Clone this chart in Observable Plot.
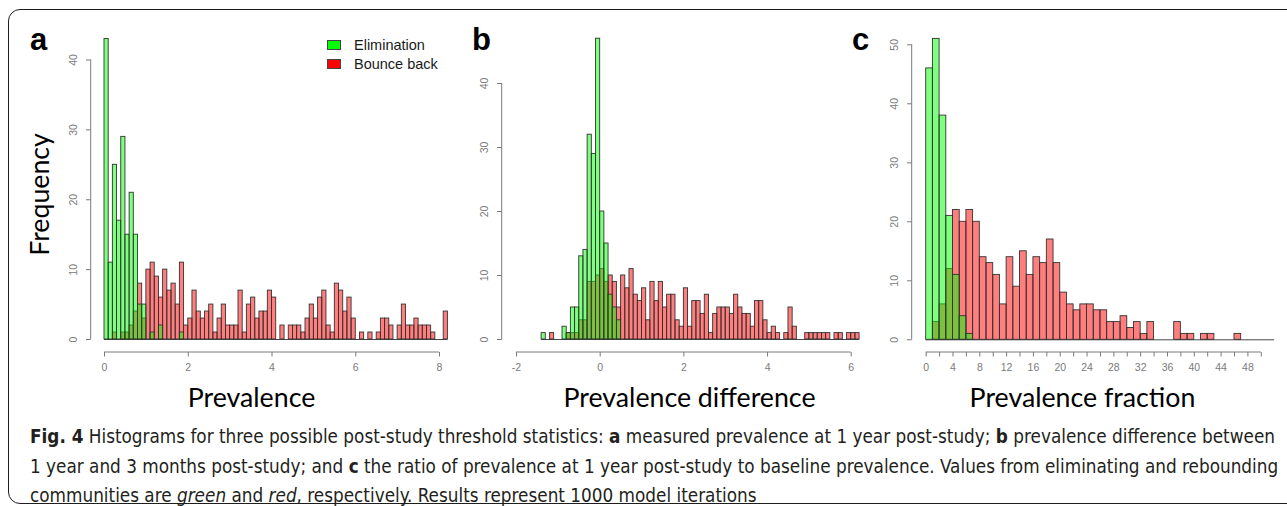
<!DOCTYPE html>
<html>
<head>
<meta charset="utf-8">
<script src="https://cdn.jsdelivr.net/npm/d3@7"></script>
<script src="https://cdn.jsdelivr.net/npm/@observablehq/plot@0.6"></script>
<style>
  html, body { margin: 0; padding: 0; background: #fff; }
  body { width: 1287px; height: 506px; overflow: hidden; position: relative; }
  #border { position: absolute; left: 8px; top: 9px; width: 1400px; height: 495px; border: 1.7px solid #1e1e1e; border-radius: 12px; box-sizing: border-box; }
  .panel { position: absolute; top: 0; }
  .panel svg { overflow: visible; }
  .letter { position: absolute; font-family: "Liberation Sans", Arial, sans-serif; font-weight: bold; font-size: 31px; line-height: 31px; color: #000; }
  #legend { position: absolute; left: 327px; top: 35px; font-family: "Liberation Sans", Arial, sans-serif; font-size: 14.5px; color: #1a1a1a; }
  .lg { display: flex; align-items: center; height: 19.5px; white-space: nowrap; }
  .sw { width: 12px; height: 8px; border: 1px solid #444; margin-right: 13px; }
  #caption { position: absolute; left: 30px; top: 422px; font-family: "Liberation Sans Narrow", "DejaVu Sans Condensed", "Liberation Sans", sans-serif; font-size: 19px; line-height: 29.5px; color: #231f20; white-space: nowrap; }
  #caption .line { width: max-content; transform-origin: 0 50%; }
</style>
</head>
<body>
<div id="border"></div>
<div id="panels"></div>
<div id="legend"></div>
<div id="caption">
  <div class="line"><b>Fig. 4</b> Histograms for three possible post-study threshold statistics: <b>a</b> measured prevalence at 1 year post-study; <b>b</b> prevalence difference between</div>
  <div class="line">1 year and 3 months post-study; and <b>c</b> the ratio of prevalence at 1 year post-study to baseline prevalence. Values from eliminating and rebounding</div>
  <div class="line">communities are <i>green</i> and <i>red</i>, respectively. Results represent 1000 model iterations</div>
</div>
<script>
// ---------------- data ----------------
const legendLabels = ["Elimination", "Bounce back"];
const legendColors = ["#00ff00", "#ff0000"];
const panelLetters = ["a", "b", "c"];
const axisTitles = ["Prevalence", "Prevalence difference", "Prevalence fraction"];
const yAxisTitle = "Frequency";

// Panel a: prevalence at 1 year post-study (bins of 0.1 from 0)
const aBinStart = 0, aBinWidth = 0.1;
const aElimination = [43, 11, 25, 17, 29, 15, 21, 15, 5, 5, 0, 1, 0, 2, 0, 0, 0, 0, 1];
const aBounceBack = [0, 0, 1, 0, 1, 1, 2, 4, 8, 3,
  10, 11, 9, 6, 10, 7, 8, 5, 11, 2,
  3, 7, 4, 3, 4, 5, 1, 3, 5, 2,
  2, 2, 7, 1, 5, 6, 3, 4, 4, 7,
  6, 0, 2, 0, 2, 2, 2, 1, 3, 5,
  3, 6, 7, 2, 1, 8, 7, 4, 6, 3,
  0, 1, 0, 1, 0, 1, 3, 3, 2, 0,
  2, 5, 2, 2, 3, 2, 2, 2, 1, 0,
  0, 4];
const aXTicks = [0, 2, 4, 6, 8];
const aXLabels = [0, 2, 4, 6, 8];
const aYTicks = [0, 10, 20, 30, 40];

// Panel b: prevalence difference (bins of 0.1 from -1.4)
const bBinStart = -1.4, bBinWidth = 0.1;
const bElimination = [1, 0, 0, 0, 0, 2, 1, 5, 5, 13, 14, 32, 29, 47, 20, 15, 7, 5, 3];
const bBounceBack = [0, 0, 1, 0, 0, 0, 1, 1, 1, 3,
  3, 9, 9, 10, 11, 9, 10, 9, 5, 10,
  8, 11, 7, 6, 8, 3, 9, 6, 9, 5,
  7, 7, 3, 2, 8, 2, 6, 6, 4, 7,
  1, 4, 5, 5, 5, 4, 7, 5, 4, 4,
  2, 6, 6, 3, 1, 2, 1, 0, 1, 5,
  2, 0, 0, 1, 1, 1, 1, 1, 1, 0,
  1, 1, 0, 1, 1, 1];
const bXTicks = [-2, 0, 2, 4, 6];
const bXLabels = [-2, 0, 2, 4, 6];
const bYTicks = [0, 10, 20, 30, 40];

// Panel c: prevalence fraction (bins of 1 from 0)
const cBinStart = 0, cBinWidth = 1;
const cElimination = [46, 51, 38, 21, 11, 4, 1];
const cBounceBack = [0, 3, 6, 12, 22, 20, 22, 20, 14, 13,
  11, 6, 14, 9, 15, 11, 14, 13, 17, 13,
  8, 6, 5, 6, 6, 5, 5, 3, 3, 4,
  2, 3, 1, 3, 0, 0, 0, 3, 1, 1,
  0, 1, 1, 0, 0, 0, 1, 0, 0, 0,
  0, 0];
const cXTicks = [0, 2, 4, 6, 8, 10, 12, 14, 16, 18, 20, 22, 24, 26, 28, 30, 32, 34, 36, 38, 40, 42, 44, 46, 48, 50];
const cXLabels = [0, 4, 8, 12, 16, 20, 24, 28, 32, 36, 40, 44, 48];
const cYTicks = [0, 10, 20, 30, 40, 50];

// ---------------- styling / layout ----------------
const BAR_OPACITY = 0.5;
const BAR_STROKE = "#333";
const AXIS_COLOR = "#7a7a7a";
const TITLE_FONT = "Lato";

const ctx = document.createElement("canvas").getContext("2d");
function textWidth(t, font) { ctx.font = font; return ctx.measureText(t).width; }
const titleSize = 252 / textWidth("Prevalence difference", `100px ${TITLE_FONT}`) * 100;

const panels = [
  {elim: aElimination, bounce: aBounceBack, start: aBinStart, bw: aBinWidth, xTicks: aXTicks, xLabels: aXLabels, yTicks: aYTicks, title: axisTitles[0], ylabel: yAxisTitle,
   layout: {left: 0, width: 460, height: 420, xDomain: [0, 8.2], xRange: [104, 447.4], yDomain: [0, 40], yRange: [339, 59.5], frameLeft: 90.7, frameBottom: 352, titleX: 251, titleY: 398, ylabelX: 40, ylabelY: 194}},
  {elim: bElimination, bounce: bBounceBack, start: bBinStart, bw: bBinWidth, xTicks: bXTicks, xLabels: bXLabels, yTicks: bYTicks, title: axisTitles[1],
   layout: {left: 460, width: 420, height: 420, xDomain: [-2, 6.2], xRange: [56, 399.1], yDomain: [0, 40], yRange: [339, 83], frameLeft: 41.7, frameBottom: 352, titleX: 229, titleY: 398}},
  {elim: cElimination, bounce: cBounceBack, start: cBinStart, bw: cBinWidth, xTicks: cXTicks, xLabels: cXLabels, yTicks: cYTicks, title: axisTitles[2],
   layout: {left: 860, width: 427, height: 420, xDomain: [0, 52], xRange: [65.7, 414.2], yDomain: [0, 50], yRange: [339.3, 44.3], frameLeft: 51.7, frameBottom: 352, titleX: 222, titleY: 398}}
];
const letterPos = [{left: 30, top: 24}, {left: 472, top: 24}, {left: 852, top: 24}];

function toBins(counts, start, width) {
  return counts.map((c, i) => ({x1: +(start + i * width).toFixed(6), x2: +(start + (i + 1) * width).toFixed(6), count: c}));
}

function rAxisLines(xTicks, yTicks) {
  return (index, scales, values, dims) => {
    const {x, y} = scales;
    const bx = dims.marginLeft, by = dims.height - dims.marginBottom;
    const g = d3.create("svg:g").attr("stroke", AXIS_COLOR).attr("stroke-width", 1).attr("fill", "none");
    g.append("line").attr("x1", x(xTicks[0])).attr("x2", x(xTicks[xTicks.length - 1])).attr("y1", by).attr("y2", by);
    g.append("line").attr("x1", bx).attr("x2", bx).attr("y1", y(yTicks[0])).attr("y2", y(yTicks[yTicks.length - 1]));
    return g.node();
  };
}

const host = document.getElementById("panels");
panels.forEach((p, i) => {
  const L = p.layout;
  const nBins = Math.max(p.elim.length, p.bounce.length);
  const binEnd = p.start + nBins * p.bw;
  const elim = toBins(p.elim, p.start, p.bw).filter(d => d.count > 0);
  const bounce = toBins(p.bounce, p.start, p.bw).filter(d => d.count > 0);
  const marks = [
    Plot.ruleY([0], {x1: p.start, x2: binEnd, stroke: BAR_STROKE, strokeWidth: 0.9}),
    Plot.rect(bounce, {x1: "x1", x2: "x2", y1: 0, y2: "count", fill: legendColors[1], fillOpacity: BAR_OPACITY, stroke: BAR_STROKE, strokeWidth: 0.9}),
    Plot.rect(elim, {x1: "x1", x2: "x2", y1: 0, y2: "count", fill: legendColors[0], fillOpacity: BAR_OPACITY, stroke: BAR_STROKE, strokeWidth: 0.9}),
    Plot.axisX({ticks: p.xTicks, tickFormat: d => p.xLabels.includes(d) ? String(d) : "", tickSize: 4.5, tickPadding: 7, label: null}),
    Plot.axisY({ticks: p.yTicks, tickFormat: d => String(d), tickSize: 4.7, tickRotate: -90, tickPadding: 10, label: null}),
    rAxisLines(p.xTicks, p.yTicks),
    Plot.text([p.title], {text: d => d, frameAnchor: "bottom-left", textAnchor: "middle", lineAnchor: "middle", dx: L.titleX - L.frameLeft, dy: L.titleY - L.frameBottom, fontSize: titleSize, fontFamily: TITLE_FONT, fill: "#000"})
  ];
  if (p.ylabel) {
    marks.push(Plot.text([p.ylabel], {text: d => d, frameAnchor: "top-left", textAnchor: "middle", lineAnchor: "middle", rotate: -90, dx: L.ylabelX - L.frameLeft, dy: L.ylabelY - 20, fontSize: titleSize, fontFamily: TITLE_FONT, fill: "#000"}));
  }
  const chart = Plot.plot({
    width: L.width,
    height: L.height,
    marginLeft: L.frameLeft,
    marginRight: L.width - L.xRange[1],
    marginTop: 20,
    marginBottom: L.height - L.frameBottom,
    x: {domain: L.xDomain, range: L.xRange},
    y: {domain: L.yDomain, range: L.yRange},
    style: {background: "transparent", color: AXIS_COLOR, fontFamily: "'Liberation Sans', Arial, sans-serif", fontSize: "10.5px", overflow: "visible"},
    marks
  });
  const wrap = document.createElement("div");
  wrap.className = "panel";
  wrap.style.left = L.left + "px";
  wrap.appendChild(chart);
  host.appendChild(wrap);

  const letter = document.createElement("div");
  letter.className = "letter";
  letter.textContent = panelLetters[i];
  letter.style.left = letterPos[i].left + "px";
  letter.style.top = letterPos[i].top + "px";
  document.body.appendChild(letter);
});

// legend
const legend = document.getElementById("legend");
legendLabels.forEach((lab, i) => {
  const row = document.createElement("div");
  row.className = "lg";
  const sw = document.createElement("div");
  sw.className = "sw";
  sw.style.background = legendColors[i];
  const t = document.createElement("span");
  t.textContent = lab;
  row.appendChild(sw); row.appendChild(t);
  legend.appendChild(row);
});

// caption fitting
const lines = [...document.querySelectorAll("#caption .line")];
const w0 = lines[0].getBoundingClientRect().width;
const s = 1245 / w0;
lines.forEach(l => l.style.transform = `scaleX(${s})`);
</script>
</body>
</html>
